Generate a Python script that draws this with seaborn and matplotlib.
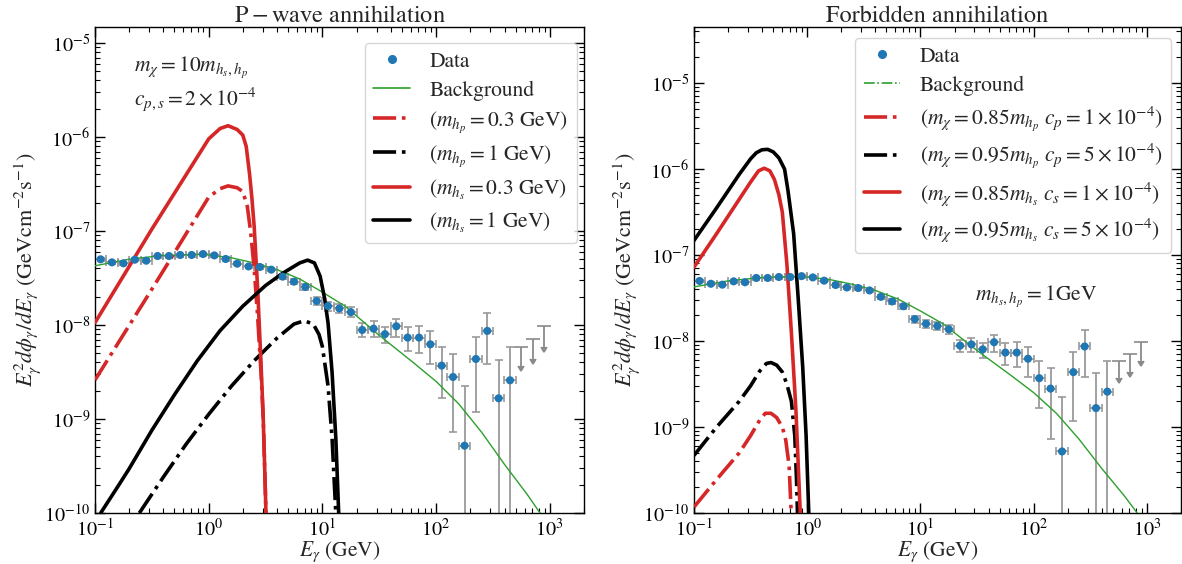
import numpy as np
import matplotlib
matplotlib.use("Agg")
import matplotlib.pyplot as plt
import seaborn as sns
from matplotlib.lines import Line2D

# ---------------- data ----------------
E_data = [0.112, 0.141, 0.178, 0.224, 0.282, 0.355, 0.447, 0.562, 0.708, 0.891,
          1.12, 1.41, 1.78, 2.24, 2.82, 3.55, 4.47, 5.62, 7.08, 8.91,
          11.2, 14.1, 17.8, 22.4, 28.2, 35.5, 44.7, 56.2, 70.8, 89.1,
          112, 141, 178, 224, 282, 355, 447]
F_data = [5.0e-8, 4.64e-8, 4.53e-8, 4.95e-8, 4.83e-8, 5.42e-8, 5.42e-8, 5.56e-8, 5.56e-8, 5.69e-8,
          5.5e-8, 5.04e-8, 4.49e-8, 4.2e-8, 4.14e-8, 3.88e-8, 3.27e-8, 2.89e-8, 2.54e-8, 1.80e-8,
          1.59e-8, 1.50e-8, 1.37e-8, 8.85e-9, 9.14e-9, 8.0e-9, 9.69e-9, 7.35e-9, 7.35e-9, 6.23e-9,
          3.7e-9, 2.8e-9, 5.2e-10, 4.35e-9, 8.65e-9, 1.66e-9, 2.58e-9]
F_hi = [5.2e-8, 4.83e-8, 4.72e-8, 5.15e-8, 5.03e-8, 5.62e-8, 5.62e-8, 5.76e-8, 5.76e-8, 5.9e-8,
        5.7e-8, 5.24e-8, 4.68e-8, 4.38e-8, 4.33e-8, 4.07e-8, 3.45e-8, 3.06e-8, 2.72e-8, 1.98e-8,
        1.77e-8, 1.68e-8, 1.55e-8, 1.04e-8, 1.09e-8, 9.6e-9, 1.17e-8, 9.46e-9, 9.76e-9, 8.57e-9,
        5.79e-9, 4.88e-9, 2.26e-9, 7.5e-9, 1.35e-8, 4.25e-9, 5.79e-9]
F_lo = [4.8e-8, 4.45e-8, 4.35e-8, 4.75e-8, 4.64e-8, 5.2e-8, 5.2e-8, 5.34e-8, 5.34e-8, 5.46e-8,
        5.28e-8, 4.84e-8, 4.31e-8, 4.03e-8, 3.97e-8, 3.72e-8, 3.1e-8, 2.72e-8, 2.37e-8, 1.63e-8,
        1.42e-8, 1.33e-8, 1.21e-8, 7.4e-9, 7.5e-9, 6.4e-9, 7.5e-9, 5.33e-9, 5.0e-9, 3.85e-9,
        1.66e-9, 7.2e-10, 1e-12, 1.18e-9, 3.82e-9, 1e-12, 1e-12]
bin_half_dex = 0.05

E_ul = [562, 708, 891]
F_ul_top = [5.88e-9, 7.15e-9, 9.76e-9]
F_ul_tip = [3.69e-9, 4.32e-9, 5.88e-9]

# background (log10 E, log10 F)
logE_bg = [-1.0, -0.7, -0.4, -0.1, 0.0, 0.2, 0.4, 0.6, 0.8, 1.0, 1.2, 1.5, 1.8, 2.0, 2.2, 2.4, 2.6, 2.8, 3.0]
logF_bg = [-7.37, -7.30, -7.26, -7.25, -7.255, -7.285, -7.34, -7.41, -7.51, -7.65, -7.80, -8.11, -8.40,
           -8.60, -8.84, -9.14, -9.48, -9.80, -10.15]

# left panel: P-wave annihilation
logE_L_hp03 = [-1.0, -0.5, 0.0, 0.1, 0.17, 0.25, 0.30, 0.34, 0.37, 0.40, 0.43, 0.46, 0.48, 0.505]
logF_L_hp03 = [-8.585, -7.62, -6.64, -6.55, -6.52, -6.54, -6.58, -6.74, -7.02, -7.4, -7.9, -8.5, -9.0, -10.05]
logE_L_hp1 = [-0.61, -0.4, -0.2, 0.0, 0.2, 0.4, 0.6, 0.75, 0.84, 0.92, 0.97, 1.0, 1.05, 1.085, 1.12]
logF_L_hp1 = [-10.0, -9.62, -9.27, -8.95, -8.65, -8.38, -8.14, -7.99, -7.955, -7.99, -8.1, -8.23, -8.65, -9.2, -10.05]
logE_L_hs03 = [-1.0, -0.5, 0.0, 0.1, 0.17, 0.25, 0.30, 0.33, 0.36, 0.38, 0.40, 0.43, 0.46, 0.48, 0.505]
logF_L_hs03 = [-7.975, -6.98, -6.02, -5.91, -5.88, -5.92, -5.98, -6.1, -6.4, -6.65, -6.95, -7.6, -8.4, -9.0, -10.05]
logE_L_hs1 = [-0.95, -0.8, -0.7, -0.5, -0.3, -0.1, 0.1, 0.3, 0.5, 0.65, 0.8, 0.87, 0.93, 0.98, 1.02, 1.05, 1.085, 1.118, 1.145]
logF_L_hs1 = [-10.0, -9.72, -9.53, -9.12, -8.74, -8.38, -8.06, -7.8, -7.58, -7.45, -7.34, -7.31, -7.34, -7.48, -7.72, -7.98, -8.5, -9.2, -10.05]

# right panel: forbidden annihilation
logE_R_p085 = [-1.0, -0.8, -0.6, -0.5, -0.42, -0.37, -0.32, -0.27, -0.22, -0.19, -0.16, -0.14]
logF_R_p085 = [-9.93, -9.61, -9.3, -9.1, -8.92, -8.84, -8.84, -8.89, -9.0, -9.15, -9.45, -10.05]
logE_R_p095 = [-1.0, -0.8, -0.6, -0.5, -0.42, -0.36, -0.32, -0.27, -0.22, -0.18, -0.14, -0.11, -0.095, -0.085]
logF_R_p095 = [-9.33, -9.0, -8.7, -8.52, -8.35, -8.26, -8.25, -8.28, -8.36, -8.5, -8.7, -9.1, -9.6, -10.05]
logE_R_s085 = [-1.0, -0.8, -0.6, -0.5, -0.43, -0.38, -0.33, -0.29, -0.25, -0.22, -0.18, -0.14, -0.1, -0.06]
logF_R_s085 = [-7.14, -6.75, -6.35, -6.15, -6.02, -5.99, -6.02, -6.12, -6.3, -6.5, -7.1, -7.9, -8.8, -10.05]
logE_R_s095 = [-1.0, -0.8, -0.6, -0.5, -0.45, -0.4, -0.35, -0.3, -0.25, -0.2, -0.17, -0.12, -0.08, -0.04, -0.01, 0.015]
logF_R_s095 = [-6.83, -6.45, -6.06, -5.88, -5.81, -5.775, -5.77, -5.8, -5.87, -6.0, -6.25, -6.75, -7.5, -8.3, -9.1, -10.05]

labels_left = ["Data", "Background",
               r"$(m_{h_p}=0.3$ GeV$)$", r"$(m_{h_p}=1$ GeV$)$",
               r"$(m_{h_s}=0.3$ GeV$)$", r"$(m_{h_s}=1$ GeV$)$"]
labels_right = ["Data", "Background",
                r"$(m_\chi=0.85m_{h_p}\ c_p=1\times10^{-4})$",
                r"$(m_\chi=0.95m_{h_p}\ c_p=5\times10^{-4})$",
                r"$(m_\chi=0.85m_{h_s}\ c_s=1\times10^{-4})$",
                r"$(m_\chi=0.95m_{h_s}\ c_s=5\times10^{-4})$"]

# ---------------- style ----------------
sns.set_theme(style="ticks")
plt.rcParams.update({
    "font.family": ["STIXGeneral", "DejaVu Serif"],
    "mathtext.fontset": "stix",
    "axes.edgecolor": "black",
    "axes.linewidth": 1.0,
    "xtick.color": "black",
    "ytick.color": "black",
})

RED = "#d62728"
BLUE = "#1f77b4"
GREEN = "#2ca02c"
GREY = "#9a9a9a"
ULGREY = "#8a8a8a"
LW = 2.6

fig = plt.figure(figsize=(11.82, 5.64), dpi=100)
axL = fig.add_axes([95 / 1182, 51 / 564, 489 / 1182, 486 / 564])
axR = fig.add_axes([694 / 1182, 51 / 564, 487 / 1182, 486 / 564])


def tolin(a):
    return 10 ** np.asarray(a, dtype=float)


def draw_data(ax):
    E = np.asarray(E_data)
    F = np.asarray(F_data)
    xerr = [E - E * 10 ** (-bin_half_dex), E * 10 ** bin_half_dex - E]
    yerr = [F - np.asarray(F_lo), np.asarray(F_hi) - F]
    ax.errorbar(E, F, xerr=xerr, yerr=yerr, fmt="none", ecolor=GREY,
                elinewidth=1.3, capsize=3, capthick=1.2, zorder=2)
    top = np.asarray(F_ul_top)
    cont = ax.errorbar(E_ul, top, yerr=top - np.asarray(F_ul_tip), uplims=True, fmt="none",
                       ecolor=ULGREY, elinewidth=1.3, capsize=5, capthick=1.2, zorder=2)
    for cl in cont[1]:
        cl.set_color(ULGREY)
        cl.set_markeredgecolor(ULGREY)
        cl.set_markerfacecolor(ULGREY)
        if cl.get_marker() not in ("_", "|"):
            cl.set_markersize(5)
    sns.scatterplot(x=E, y=F, ax=ax, color=BLUE, s=34, edgecolor="none", zorder=4, legend=False)


def curve(ax, lx, ly, color, ls, lw=LW):
    sns.lineplot(x=tolin(lx), y=tolin(ly), ax=ax, color=color, linestyle=ls, lw=lw,
                 sort=False, estimator=None, zorder=3, legend=False)


for ax in (axL, axR):
    ax.set_xscale("log")
    ax.set_yscale("log")

TXT = 15.5

# left panel
draw_data(axL)
curve(axL, logE_bg, logF_bg, GREEN, "-", lw=1.0)
curve(axL, logE_L_hp03, logF_L_hp03, RED, "-.")
curve(axL, logE_L_hp1, logF_L_hp1, "black", "-.")
curve(axL, logE_L_hs03, logF_L_hs03, RED, "-")
curve(axL, logE_L_hs1, logF_L_hs1, "black", "-")
axL.set_xlim(0.1, 2000)
axL.set_ylim(1e-10, 1.48e-5)
axL.set_title(r"$\mathrm{P-wave}$ annihilation", fontsize=17.5, pad=3)
axL.text(0.08, 0.918, r"$m_\chi=10m_{h_s,h_p}$", transform=axL.transAxes, fontsize=TXT, va="center")
axL.text(0.08, 0.852, r"$c_{p,s}=2\times10^{-4}$", transform=axL.transAxes, fontsize=TXT, va="center")

# right panel
draw_data(axR)
curve(axR, logE_bg, logF_bg, GREEN, "-", lw=1.0)
curve(axR, logE_R_p085, logF_R_p085, RED, "-.")
curve(axR, logE_R_p095, logF_R_p095, "black", "-.")
curve(axR, logE_R_s085, logF_R_s085, RED, "-")
curve(axR, logE_R_s095, logF_R_s095, "black", "-")
axR.set_xlim(0.1, 2000)
axR.set_ylim(1e-10, 4.5e-5)
axR.set_title("Forbidden annihilation", fontsize=17.5, pad=3)
axR.text(0.576, 0.447, r"$m_{h_s,h_p}=1$GeV", transform=axR.transAxes, fontsize=TXT, va="center")

ylab = r"$E_\gamma^2d\phi_\gamma/dE_\gamma$ (GeVcm$^{-2}$s$^{-1}$)"
for ax in (axL, axR):
    ax.set_xlabel(r"$E_\gamma$ (GeV)", fontsize=15.5, labelpad=0)
    ax.set_ylabel(ylab, fontsize=16, labelpad=1)
    ax.tick_params(which="both", direction="in", top=True, right=True, labelsize=14.5)
    ax.tick_params(which="major", length=7, width=1.0)
    ax.tick_params(which="minor", length=3.5, width=0.8)
    for s in ax.spines.values():
        s.set_visible(True)

h_data = Line2D([], [], marker="o", ls="none", color=BLUE, markersize=5.5)
hL = [h_data,
      Line2D([], [], color=GREEN, lw=1.2, ls="-"),
      Line2D([], [], color=RED, lw=LW, ls="-."),
      Line2D([], [], color="black", lw=LW, ls="-."),
      Line2D([], [], color=RED, lw=LW, ls="-"),
      Line2D([], [], color="black", lw=LW, ls="-")]
hR = [h_data,
      Line2D([], [], color=GREEN, lw=1.2, ls="-."),
      Line2D([], [], color=RED, lw=LW, ls="-."),
      Line2D([], [], color="black", lw=LW, ls="-."),
      Line2D([], [], color=RED, lw=LW, ls="-"),
      Line2D([], [], color="black", lw=LW, ls="-")]

axL.legend(hL, labels_left, loc="upper right", bbox_to_anchor=(0.986, 0.967), borderaxespad=0,
           fontsize=TXT, handlelength=1.7, handletextpad=0.9, labelspacing=0.4, frameon=True)
axR.legend(hR, labels_right, loc="upper right", bbox_to_anchor=(0.98, 0.977), borderaxespad=0,
           fontsize=TXT, handlelength=1.7, handletextpad=0.9, labelspacing=0.4, frameon=True)

fig.savefig("out.png", dpi=100)
